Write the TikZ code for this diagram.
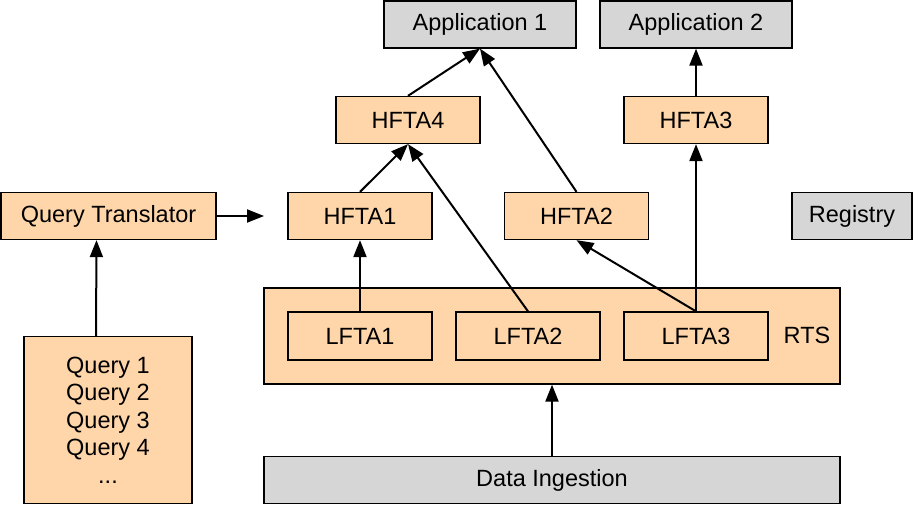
\documentclass[tikz,border=0pt]{standalone}
\usepackage{fontspec}
\setmainfont{Liberation Sans}
\usetikzlibrary{arrows.meta}
\definecolor{peach}{RGB}{255,214,170}
\definecolor{lgray}{RGB}{214,214,214}
\tikzset{
  box/.style={draw=black, line width=1.3pt, rectangle, inner sep=0pt, fill=peach,
    font=\fontsize{23.5}{27.5}\selectfont, align=center},
  graybox/.style={box, fill=lgray},
  conn/.style={line width=2pt, -{Triangle[length=17pt,width=13pt]}, shorten >=0pt}
}
\begin{document}
\begin{tikzpicture}[x=1pt,y=-1pt]
\useasboundingbox (0,0) rectangle (913,505);
\node[graybox, minimum width=192pt, minimum height=47pt] (app1) at (480,24.5) {Application 1};
\node[graybox, minimum width=192pt, minimum height=47pt] (app2) at (696,24.5) {Application 2};
\node[box, minimum width=144pt, minimum height=47pt] (hfta4) at (408,120) {HFTA4};
\node[box, minimum width=144pt, minimum height=47pt] (hfta3) at (696,120) {HFTA3};
\node[box, minimum width=215pt, minimum height=47pt] (qt) at (108.5,216) {Query Translator};
\node[box, minimum width=144pt, minimum height=47pt] (hfta1) at (360,216) {HFTA1};
\node[box, minimum width=144pt, minimum height=47pt] (hfta2) at (576.5,216) {HFTA2};
\node[graybox, minimum width=120pt, minimum height=47pt] (reg) at (852,216) {Registry};
\node[box, minimum width=576pt, minimum height=96pt] (rts) at (552,336) {};
\node[font=\fontsize{23.5}{27.5}\selectfont] (rtslabel) at (807,335) {RTS};
\node[box, minimum width=144pt, minimum height=48pt] (lfta1) at (360,336) {LFTA1};
\node[box, minimum width=144pt, minimum height=48pt] (lfta2) at (528,336) {LFTA2};
\node[box, minimum width=144pt, minimum height=48pt] (lfta3) at (696,336) {LFTA3};
\node[box, minimum width=168pt, minimum height=167pt] (queries) at (108,420) {Query 1\\Query 2\\Query 3\\Query 4\\...};
\node[graybox, minimum width=576pt, minimum height=47pt] (ingest) at (552,480) {Data Ingestion};
\coordinate (qtend) at (264,216);
\draw[conn] ([xshift=-12pt]queries.north) -- ([xshift=-12pt]qt.south);
\draw[conn] (qt.east) -- (qtend);
\draw[conn] (lfta1.north) -- (hfta1.south);
\draw[conn] (hfta1.north) -- (hfta4.south);
\draw[conn] (lfta2.north) -- (hfta4.south);
\draw[conn] (hfta4.north) -- (app1.south);
\draw[conn] (hfta2.north) -- (app1.south);
\draw[conn] (lfta3.north) -- (hfta3.south);
\draw[conn] (lfta3.north) -- (hfta2.south);
\draw[conn] (hfta3.north) -- (app2.south);
\draw[conn] (ingest.north) -- (rts.south);
\end{tikzpicture}
\end{document}
